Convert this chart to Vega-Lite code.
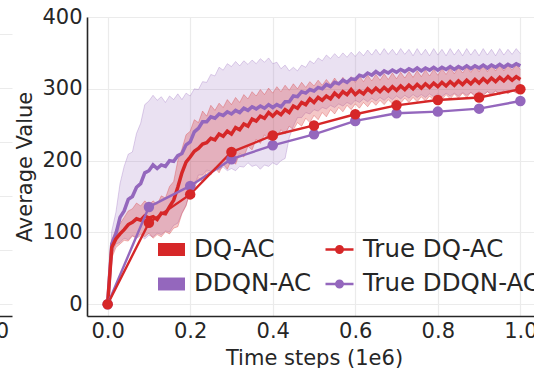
{
  "$schema": "https://vega.github.io/schema/vega-lite/v6.json",
  "background": "white",
  "padding": {"left": -28, "top": 6, "right": -7, "bottom": 0},
  "spacing": 2,
  "config": {
    "font": "DejaVu Sans",
    "view": {"stroke": null},
    "axis": {
      "labelFont": "DejaVu Sans", "titleFont": "DejaVu Sans",
      "labelFontSize": 21, "titleFontSize": 21,
      "labelColor": "#262626", "titleColor": "#262626", "titleFontWeight": "normal",
      "gridColor": "#ebebeb", "gridWidth": 1.2,
      "domainColor": "#262626", "domainWidth": 1.6,
      "ticks": false, "tickSize": 0
    },
    "legend": {
      "labelFont": "DejaVu Sans", "labelFontSize": 24.5, "labelColor": "#262626",
      "padding": 0, "offset": 0, "labelLimit": 400
    }
  },
  "datasets": {
    "runs": [
      {"x":0.00,"s":"DQ-AC","m":0,"lo":0,"hi":0},
      {"x":0.01,"s":"DQ-AC","m":79,"lo":64,"hi":90},
      {"x":0.02,"s":"DQ-AC","m":91,"lo":79,"hi":104},
      {"x":0.03,"s":"DQ-AC","m":98,"lo":84,"hi":112},
      {"x":0.04,"s":"DQ-AC","m":104,"lo":89,"hi":121},
      {"x":0.05,"s":"DQ-AC","m":111,"lo":88,"hi":130},
      {"x":0.06,"s":"DQ-AC","m":114,"lo":95,"hi":133},
      {"x":0.07,"s":"DQ-AC","m":119,"lo":92,"hi":141},
      {"x":0.08,"s":"DQ-AC","m":117,"lo":98,"hi":137},
      {"x":0.09,"s":"DQ-AC","m":123,"lo":94,"hi":144},
      {"x":0.10,"s":"DQ-AC","m":120,"lo":99,"hi":138},
      {"x":0.11,"s":"DQ-AC","m":122,"lo":92,"hi":144},
      {"x":0.12,"s":"DQ-AC","m":118,"lo":97,"hi":139},
      {"x":0.13,"s":"DQ-AC","m":127,"lo":94,"hi":151},
      {"x":0.14,"s":"DQ-AC","m":126,"lo":101,"hi":148},
      {"x":0.15,"s":"DQ-AC","m":136,"lo":98,"hi":164},
      {"x":0.16,"s":"DQ-AC","m":145,"lo":106,"hi":171},
      {"x":0.17,"s":"DQ-AC","m":163,"lo":108,"hi":200},
      {"x":0.18,"s":"DQ-AC","m":183,"lo":126,"hi":216},
      {"x":0.19,"s":"DQ-AC","m":198,"lo":137,"hi":236},
      {"x":0.20,"s":"DQ-AC","m":205,"lo":158,"hi":241},
      {"x":0.21,"s":"DQ-AC","m":213,"lo":161,"hi":257},
      {"x":0.22,"s":"DQ-AC","m":217,"lo":176,"hi":253},
      {"x":0.23,"s":"DQ-AC","m":223,"lo":171,"hi":269},
      {"x":0.24,"s":"DQ-AC","m":225,"lo":185,"hi":262},
      {"x":0.25,"s":"DQ-AC","m":231,"lo":180,"hi":277},
      {"x":0.26,"s":"DQ-AC","m":229,"lo":190,"hi":270},
      {"x":0.27,"s":"DQ-AC","m":237,"lo":183,"hi":280},
      {"x":0.28,"s":"DQ-AC","m":234,"lo":195,"hi":274},
      {"x":0.29,"s":"DQ-AC","m":241,"lo":188,"hi":285},
      {"x":0.30,"s":"DQ-AC","m":237,"lo":201,"hi":278},
      {"x":0.31,"s":"DQ-AC","m":246,"lo":195,"hi":288},
      {"x":0.32,"s":"DQ-AC","m":243,"lo":210,"hi":281},
      {"x":0.33,"s":"DQ-AC","m":251,"lo":205,"hi":292},
      {"x":0.34,"s":"DQ-AC","m":248,"lo":220,"hi":286},
      {"x":0.35,"s":"DQ-AC","m":258,"lo":215,"hi":296},
      {"x":0.36,"s":"DQ-AC","m":255,"lo":230,"hi":290},
      {"x":0.37,"s":"DQ-AC","m":262,"lo":224,"hi":299},
      {"x":0.38,"s":"DQ-AC","m":259,"lo":236,"hi":292},
      {"x":0.39,"s":"DQ-AC","m":267,"lo":229,"hi":301},
      {"x":0.40,"s":"DQ-AC","m":262,"lo":239,"hi":294},
      {"x":0.41,"s":"DQ-AC","m":268,"lo":232,"hi":303},
      {"x":0.42,"s":"DQ-AC","m":264,"lo":243,"hi":296},
      {"x":0.43,"s":"DQ-AC","m":271,"lo":237,"hi":305},
      {"x":0.44,"s":"DQ-AC","m":267,"lo":248,"hi":298},
      {"x":0.45,"s":"DQ-AC","m":276,"lo":243,"hi":307},
      {"x":0.46,"s":"DQ-AC","m":273,"lo":253,"hi":300},
      {"x":0.47,"s":"DQ-AC","m":281,"lo":248,"hi":309},
      {"x":0.48,"s":"DQ-AC","m":278,"lo":259,"hi":302},
      {"x":0.49,"s":"DQ-AC","m":286,"lo":253,"hi":310},
      {"x":0.50,"s":"DQ-AC","m":281,"lo":263,"hi":304},
      {"x":0.51,"s":"DQ-AC","m":288,"lo":257,"hi":312},
      {"x":0.52,"s":"DQ-AC","m":284,"lo":267,"hi":305},
      {"x":0.53,"s":"DQ-AC","m":290,"lo":261,"hi":313},
      {"x":0.54,"s":"DQ-AC","m":286,"lo":271,"hi":306},
      {"x":0.55,"s":"DQ-AC","m":294,"lo":265,"hi":315},
      {"x":0.56,"s":"DQ-AC","m":289,"lo":274,"hi":307},
      {"x":0.57,"s":"DQ-AC","m":296,"lo":268,"hi":316},
      {"x":0.58,"s":"DQ-AC","m":292,"lo":277,"hi":308},
      {"x":0.59,"s":"DQ-AC","m":299,"lo":271,"hi":317},
      {"x":0.60,"s":"DQ-AC","m":292,"lo":279,"hi":309},
      {"x":0.61,"s":"DQ-AC","m":297,"lo":273,"hi":318},
      {"x":0.62,"s":"DQ-AC","m":293,"lo":281,"hi":310},
      {"x":0.63,"s":"DQ-AC","m":300,"lo":275,"hi":319},
      {"x":0.64,"s":"DQ-AC","m":295,"lo":283,"hi":311},
      {"x":0.65,"s":"DQ-AC","m":301,"lo":277,"hi":320},
      {"x":0.66,"s":"DQ-AC","m":296,"lo":284,"hi":312},
      {"x":0.67,"s":"DQ-AC","m":302,"lo":278,"hi":321},
      {"x":0.68,"s":"DQ-AC","m":297,"lo":285,"hi":313},
      {"x":0.69,"s":"DQ-AC","m":303,"lo":279,"hi":322},
      {"x":0.70,"s":"DQ-AC","m":298,"lo":286,"hi":314},
      {"x":0.71,"s":"DQ-AC","m":304,"lo":280,"hi":323},
      {"x":0.72,"s":"DQ-AC","m":299,"lo":287,"hi":315},
      {"x":0.73,"s":"DQ-AC","m":305,"lo":281,"hi":324},
      {"x":0.74,"s":"DQ-AC","m":300,"lo":288,"hi":316},
      {"x":0.75,"s":"DQ-AC","m":306,"lo":282,"hi":325},
      {"x":0.76,"s":"DQ-AC","m":301,"lo":289,"hi":317},
      {"x":0.77,"s":"DQ-AC","m":307,"lo":283,"hi":326},
      {"x":0.78,"s":"DQ-AC","m":302,"lo":290,"hi":318},
      {"x":0.79,"s":"DQ-AC","m":308,"lo":284,"hi":327},
      {"x":0.80,"s":"DQ-AC","m":303,"lo":291,"hi":319},
      {"x":0.81,"s":"DQ-AC","m":309,"lo":285,"hi":328},
      {"x":0.82,"s":"DQ-AC","m":304,"lo":292,"hi":320},
      {"x":0.83,"s":"DQ-AC","m":310,"lo":286,"hi":329},
      {"x":0.84,"s":"DQ-AC","m":305,"lo":293,"hi":321},
      {"x":0.85,"s":"DQ-AC","m":311,"lo":287,"hi":330},
      {"x":0.86,"s":"DQ-AC","m":306,"lo":294,"hi":322},
      {"x":0.87,"s":"DQ-AC","m":312,"lo":288,"hi":330},
      {"x":0.88,"s":"DQ-AC","m":307,"lo":295,"hi":323},
      {"x":0.89,"s":"DQ-AC","m":313,"lo":289,"hi":331},
      {"x":0.90,"s":"DQ-AC","m":308,"lo":296,"hi":324},
      {"x":0.91,"s":"DQ-AC","m":314,"lo":290,"hi":332},
      {"x":0.92,"s":"DQ-AC","m":309,"lo":296,"hi":324},
      {"x":0.93,"s":"DQ-AC","m":315,"lo":291,"hi":332},
      {"x":0.94,"s":"DQ-AC","m":310,"lo":297,"hi":325},
      {"x":0.95,"s":"DQ-AC","m":316,"lo":292,"hi":333},
      {"x":0.96,"s":"DQ-AC","m":311,"lo":297,"hi":325},
      {"x":0.97,"s":"DQ-AC","m":317,"lo":293,"hi":333},
      {"x":0.98,"s":"DQ-AC","m":312,"lo":298,"hi":326},
      {"x":0.99,"s":"DQ-AC","m":317,"lo":294,"hi":333},
      {"x":1.00,"s":"DQ-AC","m":313,"lo":299,"hi":327},
      {"x":0.00,"s":"DDQN-AC","m":0,"lo":0,"hi":0},
      {"x":0.01,"s":"DDQN-AC","m":84,"lo":68,"hi":102},
      {"x":0.02,"s":"DDQN-AC","m":98,"lo":84,"hi":128},
      {"x":0.03,"s":"DDQN-AC","m":121,"lo":86,"hi":168},
      {"x":0.04,"s":"DDQN-AC","m":130,"lo":92,"hi":192},
      {"x":0.05,"s":"DDQN-AC","m":146,"lo":90,"hi":209},
      {"x":0.06,"s":"DDQN-AC","m":150,"lo":96,"hi":212},
      {"x":0.07,"s":"DDQN-AC","m":163,"lo":92,"hi":238},
      {"x":0.08,"s":"DDQN-AC","m":168,"lo":95,"hi":252},
      {"x":0.09,"s":"DDQN-AC","m":183,"lo":91,"hi":278},
      {"x":0.10,"s":"DDQN-AC","m":186,"lo":96,"hi":283},
      {"x":0.11,"s":"DDQN-AC","m":194,"lo":94,"hi":291},
      {"x":0.12,"s":"DDQN-AC","m":189,"lo":99,"hi":284},
      {"x":0.13,"s":"DDQN-AC","m":194,"lo":97,"hi":289},
      {"x":0.14,"s":"DDQN-AC","m":192,"lo":102,"hi":281},
      {"x":0.15,"s":"DDQN-AC","m":200,"lo":101,"hi":290},
      {"x":0.16,"s":"DDQN-AC","m":199,"lo":110,"hi":285},
      {"x":0.17,"s":"DDQN-AC","m":207,"lo":113,"hi":293},
      {"x":0.18,"s":"DDQN-AC","m":210,"lo":127,"hi":285},
      {"x":0.19,"s":"DDQN-AC","m":222,"lo":138,"hi":294},
      {"x":0.20,"s":"DDQN-AC","m":226,"lo":157,"hi":290},
      {"x":0.21,"s":"DDQN-AC","m":240,"lo":166,"hi":300},
      {"x":0.22,"s":"DDQN-AC","m":245,"lo":180,"hi":299},
      {"x":0.23,"s":"DDQN-AC","m":254,"lo":180,"hi":310},
      {"x":0.24,"s":"DDQN-AC","m":254,"lo":187,"hi":309},
      {"x":0.25,"s":"DDQN-AC","m":261,"lo":185,"hi":320},
      {"x":0.26,"s":"DDQN-AC","m":259,"lo":190,"hi":318},
      {"x":0.27,"s":"DDQN-AC","m":265,"lo":187,"hi":330},
      {"x":0.28,"s":"DDQN-AC","m":263,"lo":191,"hi":326},
      {"x":0.29,"s":"DDQN-AC","m":268,"lo":186,"hi":335},
      {"x":0.30,"s":"DDQN-AC","m":265,"lo":189,"hi":331},
      {"x":0.31,"s":"DDQN-AC","m":270,"lo":186,"hi":338},
      {"x":0.32,"s":"DDQN-AC","m":267,"lo":192,"hi":332},
      {"x":0.33,"s":"DDQN-AC","m":273,"lo":191,"hi":339},
      {"x":0.34,"s":"DDQN-AC","m":270,"lo":197,"hi":334},
      {"x":0.35,"s":"DDQN-AC","m":275,"lo":192,"hi":340},
      {"x":0.36,"s":"DDQN-AC","m":272,"lo":194,"hi":335},
      {"x":0.37,"s":"DDQN-AC","m":276,"lo":188,"hi":342},
      {"x":0.38,"s":"DDQN-AC","m":273,"lo":194,"hi":337},
      {"x":0.39,"s":"DDQN-AC","m":278,"lo":192,"hi":343},
      {"x":0.40,"s":"DDQN-AC","m":274,"lo":197,"hi":335},
      {"x":0.41,"s":"DDQN-AC","m":278,"lo":194,"hi":337},
      {"x":0.42,"s":"DDQN-AC","m":275,"lo":200,"hi":328},
      {"x":0.43,"s":"DDQN-AC","m":282,"lo":203,"hi":333},
      {"x":0.44,"s":"DDQN-AC","m":282,"lo":232,"hi":325},
      {"x":0.45,"s":"DDQN-AC","m":290,"lo":248,"hi":330},
      {"x":0.46,"s":"DDQN-AC","m":289,"lo":260,"hi":325},
      {"x":0.47,"s":"DDQN-AC","m":296,"lo":260,"hi":333},
      {"x":0.48,"s":"DDQN-AC","m":294,"lo":267,"hi":330},
      {"x":0.49,"s":"DDQN-AC","m":299,"lo":265,"hi":339},
      {"x":0.50,"s":"DDQN-AC","m":297,"lo":271,"hi":335},
      {"x":0.51,"s":"DDQN-AC","m":302,"lo":269,"hi":343},
      {"x":0.52,"s":"DDQN-AC","m":300,"lo":274,"hi":339},
      {"x":0.53,"s":"DDQN-AC","m":306,"lo":272,"hi":347},
      {"x":0.54,"s":"DDQN-AC","m":303,"lo":277,"hi":342},
      {"x":0.55,"s":"DDQN-AC","m":309,"lo":274,"hi":349},
      {"x":0.56,"s":"DDQN-AC","m":307,"lo":279,"hi":343},
      {"x":0.57,"s":"DDQN-AC","m":312,"lo":276,"hi":350},
      {"x":0.58,"s":"DDQN-AC","m":309,"lo":281,"hi":344},
      {"x":0.59,"s":"DDQN-AC","m":314,"lo":278,"hi":351},
      {"x":0.60,"s":"DDQN-AC","m":313,"lo":284,"hi":345},
      {"x":0.61,"s":"DDQN-AC","m":319,"lo":281,"hi":352},
      {"x":0.62,"s":"DDQN-AC","m":317,"lo":286,"hi":346},
      {"x":0.63,"s":"DDQN-AC","m":322,"lo":282,"hi":354},
      {"x":0.64,"s":"DDQN-AC","m":319,"lo":287,"hi":347},
      {"x":0.65,"s":"DDQN-AC","m":324,"lo":283,"hi":355},
      {"x":0.66,"s":"DDQN-AC","m":320,"lo":288,"hi":347},
      {"x":0.67,"s":"DDQN-AC","m":325,"lo":284,"hi":356},
      {"x":0.68,"s":"DDQN-AC","m":322,"lo":289,"hi":348},
      {"x":0.69,"s":"DDQN-AC","m":326,"lo":285,"hi":355},
      {"x":0.70,"s":"DDQN-AC","m":323,"lo":290,"hi":347},
      {"x":0.71,"s":"DDQN-AC","m":327,"lo":286,"hi":356},
      {"x":0.72,"s":"DDQN-AC","m":324,"lo":291,"hi":348},
      {"x":0.73,"s":"DDQN-AC","m":328,"lo":287,"hi":355},
      {"x":0.74,"s":"DDQN-AC","m":325,"lo":292,"hi":346},
      {"x":0.75,"s":"DDQN-AC","m":329,"lo":288,"hi":356},
      {"x":0.76,"s":"DDQN-AC","m":325,"lo":292,"hi":347},
      {"x":0.77,"s":"DDQN-AC","m":329,"lo":288,"hi":355},
      {"x":0.78,"s":"DDQN-AC","m":326,"lo":293,"hi":346},
      {"x":0.79,"s":"DDQN-AC","m":330,"lo":289,"hi":356},
      {"x":0.80,"s":"DDQN-AC","m":326,"lo":293,"hi":347},
      {"x":0.81,"s":"DDQN-AC","m":330,"lo":289,"hi":355},
      {"x":0.82,"s":"DDQN-AC","m":327,"lo":294,"hi":346},
      {"x":0.83,"s":"DDQN-AC","m":331,"lo":290,"hi":356},
      {"x":0.84,"s":"DDQN-AC","m":327,"lo":294,"hi":347},
      {"x":0.85,"s":"DDQN-AC","m":331,"lo":290,"hi":355},
      {"x":0.86,"s":"DDQN-AC","m":328,"lo":295,"hi":346},
      {"x":0.87,"s":"DDQN-AC","m":332,"lo":291,"hi":356},
      {"x":0.88,"s":"DDQN-AC","m":328,"lo":295,"hi":347},
      {"x":0.89,"s":"DDQN-AC","m":332,"lo":291,"hi":355},
      {"x":0.90,"s":"DDQN-AC","m":329,"lo":296,"hi":346},
      {"x":0.91,"s":"DDQN-AC","m":333,"lo":292,"hi":356},
      {"x":0.92,"s":"DDQN-AC","m":329,"lo":296,"hi":347},
      {"x":0.93,"s":"DDQN-AC","m":333,"lo":293,"hi":355},
      {"x":0.94,"s":"DDQN-AC","m":330,"lo":297,"hi":346},
      {"x":0.95,"s":"DDQN-AC","m":334,"lo":293,"hi":356},
      {"x":0.96,"s":"DDQN-AC","m":330,"lo":297,"hi":347},
      {"x":0.97,"s":"DDQN-AC","m":334,"lo":294,"hi":355},
      {"x":0.98,"s":"DDQN-AC","m":331,"lo":298,"hi":348},
      {"x":0.99,"s":"DDQN-AC","m":335,"lo":295,"hi":356},
      {"x":1.00,"s":"DDQN-AC","m":332,"lo":299,"hi":349}
    ],
    "truth": [
      {"x":0.0,"s":"True DDQN-AC","v":0},
      {"x":0.1,"s":"True DDQN-AC","v":135.5},
      {"x":0.2,"s":"True DDQN-AC","v":164.8},
      {"x":0.3,"s":"True DDQN-AC","v":202},
      {"x":0.4,"s":"True DDQN-AC","v":221.4},
      {"x":0.5,"s":"True DDQN-AC","v":236.7},
      {"x":0.6,"s":"True DDQN-AC","v":255.3},
      {"x":0.7,"s":"True DDQN-AC","v":266},
      {"x":0.8,"s":"True DDQN-AC","v":268.3},
      {"x":0.9,"s":"True DDQN-AC","v":272.4},
      {"x":1.0,"s":"True DDQN-AC","v":283},
      {"x":0.0,"s":"True DQ-AC","v":0},
      {"x":0.1,"s":"True DQ-AC","v":113.6},
      {"x":0.2,"s":"True DQ-AC","v":153},
      {"x":0.3,"s":"True DQ-AC","v":212},
      {"x":0.4,"s":"True DQ-AC","v":235},
      {"x":0.5,"s":"True DQ-AC","v":249},
      {"x":0.6,"s":"True DQ-AC","v":264.6},
      {"x":0.7,"s":"True DQ-AC","v":277},
      {"x":0.8,"s":"True DQ-AC","v":284.5},
      {"x":0.9,"s":"True DQ-AC","v":288},
      {"x":1.0,"s":"True DQ-AC","v":299.5}
    ]
  },
  "hconcat": [
    {
      "width": 40,
      "height": 299,
      "data": {"values": []},
      "mark": {"type": "rule"},
      "encoding": {
        "x": {"field": "px", "type": "quantitative",
              "scale": {"domain": [0.9517, 1.0485], "nice": false, "zero": false},
              "axis": {"values": [1.0], "format": ".1f", "title": null, "grid": false, "labelPadding": 4}},
        "y": {"field": "py", "type": "quantitative",
              "scale": {"domain": [-0.222, 5.315], "nice": false, "zero": false},
              "axis": {"values": [0, 1, 2, 3, 4, 5], "labels": false, "domain": false, "title": null, "grid": true}}
      }
    },
    {
      "width": 454,
      "height": 299,
      "layer": [
        {
          "data": {"name": "runs"},
          "transform": [{"filter": "datum.s === 'DDQN-AC'"}],
          "mark": {"type": "area", "color": "#9467bd", "opacity": 0.2},
          "encoding": {
            "x": {"field": "x", "type": "quantitative",
                  "scale": {"domain": [-0.05, 1.05], "nice": false, "zero": false},
                  "axis": {"values": [0, 0.2, 0.4, 0.6, 0.8, 1.0], "format": ".1f", "title": "Time steps (1e6)", "labelPadding": 4, "titlePadding": 6}},
            "y": {"field": "lo", "type": "quantitative",
                  "scale": {"domain": [-16.3, 400], "nice": false, "zero": false},
                  "axis": {"values": [0, 100, 200, 300, 400], "title": "Average Value", "labelPadding": 5, "titlePadding": 6}},
            "y2": {"field": "hi"}
          }
        },
        {
          "data": {"name": "runs"},
          "transform": [{"filter": "datum.s === 'DDQN-AC'"}, {"fold": ["lo", "hi"], "as": ["edge", "val"]}],
          "mark": {"type": "line", "color": "#9467bd", "opacity": 0.3, "strokeWidth": 1},
          "encoding": {
            "x": {"field": "x", "type": "quantitative"},
            "y": {"field": "val", "type": "quantitative"},
            "detail": {"field": "edge"}
          }
        },
        {
          "data": {"name": "runs"},
          "transform": [{"filter": "datum.s === 'DQ-AC'"}],
          "mark": {"type": "area", "color": "#d62728", "opacity": 0.26},
          "encoding": {
            "x": {"field": "x", "type": "quantitative"},
            "y": {"field": "lo", "type": "quantitative"},
            "y2": {"field": "hi"}
          }
        },
        {
          "data": {"name": "runs"},
          "transform": [{"filter": "datum.s === 'DQ-AC'"}, {"fold": ["lo", "hi"], "as": ["edge", "val"]}],
          "mark": {"type": "line", "color": "#d62728", "opacity": 0.3, "strokeWidth": 1},
          "encoding": {
            "x": {"field": "x", "type": "quantitative"},
            "y": {"field": "val", "type": "quantitative"},
            "detail": {"field": "edge"}
          }
        },
        {
          "data": {"name": "runs"},
          "transform": [{"filter": "datum.s === 'DDQN-AC'"}],
          "mark": {"type": "line", "strokeWidth": 3.5},
          "encoding": {
            "x": {"field": "x", "type": "quantitative"},
            "y": {"field": "m", "type": "quantitative"},
            "stroke": {"field": "s", "type": "nominal",
                       "scale": {"domain": ["DQ-AC", "DDQN-AC"], "range": ["#d62728", "#9467bd"]},
                       "legend": {"title": null, "orient": "none", "legendX": 186, "legendY": 219,
                                  "symbolType": "M-1,-0.48H1V0.48H-1Z", "symbolSize": 729, "symbolStrokeWidth": 0,
                                  "labelOffset": 9, "rowPadding": 9.5,
                                  "encode": {"symbols": {"update": {"fill": {"signal": "datum.value === 'DQ-AC' ? '#d62728' : '#9467bd'"}, "opacity": {"value": 1}, "strokeWidth": {"value": 0}}}}}}
          }
        },
        {
          "data": {"name": "runs"},
          "transform": [{"filter": "datum.s === 'DQ-AC'"}],
          "mark": {"type": "line", "strokeWidth": 3.5},
          "encoding": {
            "x": {"field": "x", "type": "quantitative"},
            "y": {"field": "m", "type": "quantitative"},
            "stroke": {"field": "s", "type": "nominal",
                       "scale": {"domain": ["DQ-AC", "DDQN-AC"], "range": ["#d62728", "#9467bd"]},
                       "legend": {"title": null, "orient": "none", "legendX": 186, "legendY": 219,
                                  "symbolType": "M-1,-0.48H1V0.48H-1Z", "symbolSize": 729, "symbolStrokeWidth": 0,
                                  "labelOffset": 9, "rowPadding": 9.5,
                                  "encode": {"symbols": {"update": {"fill": {"signal": "datum.value === 'DQ-AC' ? '#d62728' : '#9467bd'"}, "opacity": {"value": 1}, "strokeWidth": {"value": 0}}}}}}
          }
        },
        {
          "data": {"name": "truth"},
          "mark": {"type": "line", "strokeWidth": 2.4},
          "encoding": {
            "x": {"field": "x", "type": "quantitative"},
            "y": {"field": "v", "type": "quantitative"},
            "color": {"field": "s", "type": "nominal",
                      "scale": {"domain": ["True DQ-AC", "True DDQN-AC"], "range": ["#d62728", "#9467bd"]},
                      "legend": {"title": null, "orient": "none", "legendX": 352, "legendY": 217,
                                 "symbolType": "M-1,0H1M0.23,0A0.23,0.23,0,1,1,-0.23,0A0.23,0.23,0,1,1,0.23,0Z",
                                 "symbolSize": 784, "symbolStrokeWidth": 2.5,
                                 "labelOffset": 8, "rowPadding": 7.5,
                                 "encode": {"symbols": {"update": {"fill": {"signal": "datum.value === 'True DQ-AC' ? '#d62728' : '#9467bd'"}, "opacity": {"value": 1}}}}}}
          }
        },
        {
          "data": {"name": "truth"},
          "mark": {"type": "point", "filled": true, "size": 110, "opacity": 1},
          "encoding": {
            "x": {"field": "x", "type": "quantitative"},
            "y": {"field": "v", "type": "quantitative"},
            "color": {"field": "s", "type": "nominal",
                      "scale": {"domain": ["True DQ-AC", "True DDQN-AC"], "range": ["#d62728", "#9467bd"]},
                      "legend": {"title": null, "orient": "none", "legendX": 352, "legendY": 217,
                                 "symbolType": "M-1,0H1M0.23,0A0.23,0.23,0,1,1,-0.23,0A0.23,0.23,0,1,1,0.23,0Z",
                                 "symbolSize": 784, "symbolStrokeWidth": 2.5,
                                 "labelOffset": 8, "rowPadding": 7.5,
                                 "encode": {"symbols": {"update": {"fill": {"signal": "datum.value === 'True DQ-AC' ? '#d62728' : '#9467bd'"}, "opacity": {"value": 1}}}}}}
          }
        }
      ]
    }
  ]
}
